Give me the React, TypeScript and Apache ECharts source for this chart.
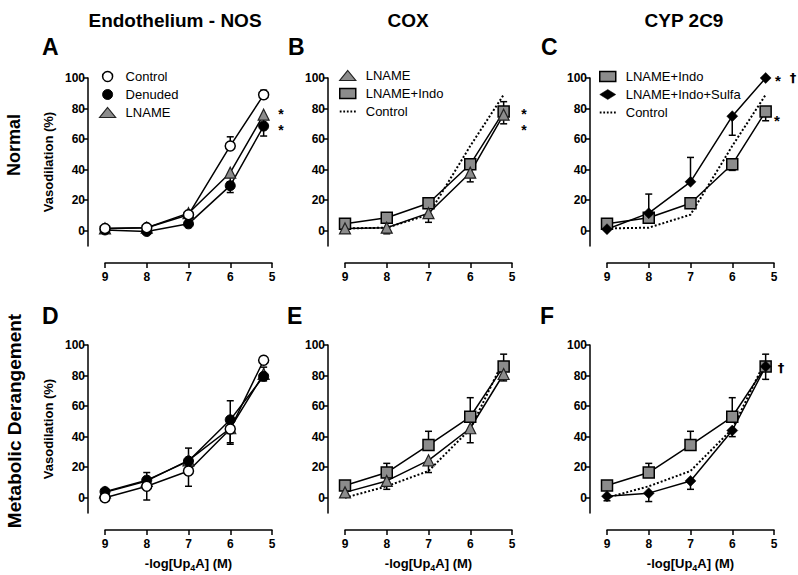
import React, { useEffect, useRef } from 'react';
import * as echarts from 'echarts';

const FONT = '"Liberation Sans", Arial, Helvetica, sans-serif';

// x: -log[Up4A] (M)
const doses = [9, 8, 7, 6, 5.2];
const xTicks = [9, 8, 7, 6, 5];
const yTicks = [0, 20, 40, 60, 80, 100];

// Normal (top row) – mean vasodilation (%) and signed SEM (+ up / - down)
const controlN = [1.5, 2, 10.5, 55.5, 89];
const controlNErr = [0, 0, 0, 6, 3];
const denudedN = [0.5, -0.5, 4.5, 29.5, 68.5];
const denudedNErr = [0, 0, -2, -4.5, -6.5];
const lnameN = [1.5, 2, 11.5, 38, 76];
const lnameNErr = [0, -4, -6, -6, -6];
const indoN = [4.5, 8.5, 18, 43.5, 78];
const indoNErrB = [0, 0, 0, 3.5, 6.5];
const indoNErrC = [0, 0, 0, -4, -6];
const sulfaN = [1, 11.5, 32, 75, 100];
const sulfaNErr = [0, 12.5, 16, -12.5, 0];

// Metabolic derangement (bottom row)
const controlM = [0, 7.5, 17.5, 45, 90];
const controlMErr = [0, -9, -10, -10, 0];
const denudedM = [4, 11.5, 24, 51, 79.5];
const denudedMErr = [0, 5, 8.5, 12.5, 6];
const lnameM = [3.5, 11, 24.5, 45.5, 81];
const lnameMErr = [0, -5.5, -8, -9.5, -4.5];
const indoM = [8, 16.5, 34.5, 53, 86];
const indoMErr = [0, 6, 9, 12.5, 8];
const sulfaM = [1, 3, 11, 44, 86];
const sulfaMErr = [-3, -5.5, -5.5, -4, -8.5];

const colHeaders = ['Endothelium - NOS', 'COX', 'CYP 2C9'];
const rowLabels = ['Normal', 'Metabolic Derangement'];
const panelLetters = ['A', 'B', 'C', 'D', 'E', 'F'];
const xTitle = '-log[Up{s|4}A] (M)';

const GREY = '#8c8c8c';
const symControl = { symbol: 'circle', symbolSize: 10, itemStyle: { color: '#fff', borderColor: '#000', borderWidth: 1.5 } };
const symDenuded = { symbol: 'circle', symbolSize: 10, itemStyle: { color: '#000', borderColor: '#000', borderWidth: 1 } };
const symLname = { symbol: 'triangle', symbolSize: 11, itemStyle: { color: GREY, borderColor: '#222', borderWidth: 1.2 } };
const symIndo = { symbol: 'rect', symbolSize: 11, itemStyle: { color: GREY, borderColor: '#000', borderWidth: 1.5 } };
const symSulfa = { symbol: 'diamond', symbolSize: 11, itemStyle: { color: '#000', borderColor: '#000', borderWidth: 0.5 } };
const DOTTED_ICON = 'path://M0,0h2v2h-2zM4,0h2v2h-2zM8,0h2v2h-2zM12,0h2v2h-2zM16,0h2v2h-2z';

const panelLeft = [105, 345, 607];
const rowTop = [78, 345];
const GW = 167;
const GH = 168;
const X_OFFSET = 17;
const Y_MIN = -10;

function lineSeries(name: string, values: number[], idx: number, sym: any) {
  return {
    type: 'line', name, xAxisIndex: idx, yAxisIndex: idx,
    data: doses.map((x, i) => [x, values[i]]),
    symbol: sym.symbol, symbolSize: sym.symbolSize, itemStyle: sym.itemStyle,
    lineStyle: { color: '#000', width: 1.5 },
    z: 3, clip: false,
  };
}

function dottedSeries(name: string, values: number[], idx: number) {
  return {
    type: 'line', name, xAxisIndex: idx, yAxisIndex: idx,
    data: doses.map((x, i) => [x, values[i]]),
    symbol: 'none', itemStyle: { color: '#000' },
    lineStyle: { color: '#000', width: 2, type: 'dotted' },
    z: 2, clip: false,
  };
}

function errSeries(values: number[], errs: number[], idx: number) {
  const data: number[][] = [];
  doses.forEach((x, i) => { if (errs[i] !== 0) data.push([x, values[i], values[i] + errs[i]]); });
  return {
    type: 'custom', xAxisIndex: idx, yAxisIndex: idx, z: 1,
    data,
    encode: { x: 0, y: [1, 2] },
    renderItem: (params: any, api: any) => {
      const p0 = api.coord([api.value(0), api.value(1)]);
      const p1 = api.coord([api.value(0), api.value(2)]);
      const cap = 3.5;
      return {
        type: 'group',
        children: [
          { type: 'line', shape: { x1: p0[0], y1: p0[1], x2: p1[0], y2: p1[1] }, style: { stroke: '#000', lineWidth: 1.5 } },
          { type: 'line', shape: { x1: p1[0] - cap, y1: p1[1], x2: p1[0] + cap, y2: p1[1] }, style: { stroke: '#000', lineWidth: 1.5 } },
        ],
      };
    },
  };
}

const tickLabel = () => ({ fontSize: 12, fontWeight: 'bold', color: '#000', fontFamily: FONT });
const axLine = () => ({ color: '#000', width: 1.5 });

function buildOption() {
  const grids: any[] = [];
  const xAxes: any[] = [];
  const yAxes: any[] = [];
  // plot grids (0..5)
  for (let r = 0; r < 2; r++) {
    for (let c = 0; c < 3; c++) {
      const idx = r * 3 + c;
      grids.push({ left: panelLeft[c], top: rowTop[r], width: GW, height: GH });
      xAxes.push({
        type: 'value', gridIndex: idx, min: 5, max: 9, interval: 1, inverse: true, show: false,
        splitLine: { show: false },
      });
      const ya: any = {
        type: 'value', gridIndex: idx, min: Y_MIN, max: 100, offset: 17,
        axisLine: { show: true, onZero: false, lineStyle: axLine() },
        axisTick: { show: true, length: 5, lineStyle: axLine(), customValues: yTicks },
        axisLabel: { ...tickLabel(), margin: 3, customValues: yTicks },
        splitLine: { show: false },
      };
      if (c === 0) {
        ya.name = 'Vasodilation (%)';
        ya.nameLocation = 'middle';
        ya.nameGap = 33;
        ya.nameTextStyle = { fontSize: 13, fontWeight: 'bold', color: '#000', fontFamily: FONT };
      }
      yAxes.push(ya);
    }
  }
  // detached x-axis strips (6..11): a thin grid just below each plot, holding the visible x axis
  for (let r = 0; r < 2; r++) {
    for (let c = 0; c < 3; c++) {
      const idx = 6 + r * 3 + c;
      grids.push({ left: panelLeft[c], top: rowTop[r] + GH + X_OFFSET, width: GW, height: 8 });
      xAxes.push({
        type: 'value', gridIndex: idx, min: 5, max: 9, interval: 1, inverse: true, position: 'top',
        axisLine: { show: true, onZero: false, lineStyle: axLine() },
        axisTick: { show: true, inside: true, length: 5, lineStyle: axLine() },
        axisLabel: { ...tickLabel(), inside: true, margin: 8 },
        splitLine: { show: false },
      });
      yAxes.push({ type: 'value', gridIndex: idx, min: 0, max: 1, show: false, splitLine: { show: false } });
    }
  }

  const series: any[] = [
    // A
    errSeries(lnameN, lnameNErr, 0), errSeries(denudedN, denudedNErr, 0), errSeries(controlN, controlNErr, 0),
    lineSeries('LNAME', lnameN, 0, symLname), lineSeries('Denuded', denudedN, 0, symDenuded), lineSeries('Control', controlN, 0, symControl),
    // B
    dottedSeries('Control (dotted)', controlN, 1),
    errSeries(indoN, indoNErrB, 1), errSeries(lnameN, lnameNErr, 1),
    lineSeries('LNAME+Indo', indoN, 1, symIndo), lineSeries('LNAME', lnameN, 1, symLname),
    // C
    dottedSeries('Control (dotted)', controlN, 2),
    errSeries(indoN, indoNErrC, 2), errSeries(sulfaN, sulfaNErr, 2),
    lineSeries('LNAME+Indo', indoN, 2, symIndo), lineSeries('LNAME+Indo+Sulfa', sulfaN, 2, symSulfa),
    // D
    errSeries(lnameM, lnameMErr, 3), errSeries(denudedM, denudedMErr, 3), errSeries(controlM, controlMErr, 3),
    lineSeries('LNAME', lnameM, 3, symLname), lineSeries('Denuded', denudedM, 3, symDenuded), lineSeries('Control', controlM, 3, symControl),
    // E
    dottedSeries('Control (dotted)', controlM, 4),
    errSeries(indoM, indoMErr, 4), errSeries(lnameM, lnameMErr, 4),
    lineSeries('LNAME+Indo', indoM, 4, symIndo), lineSeries('LNAME', lnameM, 4, symLname),
    // F
    dottedSeries('Control (dotted)', controlM, 5),
    errSeries(indoM, indoMErr, 5), errSeries(sulfaM, sulfaMErr, 5),
    lineSeries('LNAME+Indo', indoM, 5, symIndo), lineSeries('LNAME+Indo+Sulfa', sulfaM, 5, symSulfa),
  ];

  const legendBase = () => ({
    orient: 'vertical', itemWidth: 16, itemHeight: 10, itemGap: 5, padding: 0, selectedMode: false,
    textStyle: { fontSize: 13, color: '#000', fontFamily: FONT, padding: [0, 0, 0, 5] },
    formatter: (n: string) => n.replace(' (dotted)', ''),
  });
  const li = (name: string, sym: any) => ({ name, icon: sym.symbol, itemStyle: { ...sym.itemStyle } });
  const dottedItem = () => ({ name: 'Control (dotted)', icon: DOTTED_ICON, itemStyle: { color: '#000', borderWidth: 0 } });
  const legends = [
    { ...legendBase(), left: 99, top: 70, data: [li('Control', symControl), li('Denuded', symDenuded), li('LNAME', symLname)] },
    { ...legendBase(), left: 339, top: 69, data: [li('LNAME', symLname), li('LNAME+Indo', symIndo), dottedItem()] },
    { ...legendBase(), left: 599, top: 70, data: [li('LNAME+Indo', symIndo), li('LNAME+Indo+Sulfa', symSulfa), dottedItem()] },
  ];

  const txt = (text: string, x: number, y: number, size: number, extra: any = {}) => ({
    type: 'text', x, y, silent: true,
    style: { text, fontSize: size, fontWeight: 'bold', fill: '#000', fontFamily: FONT, align: 'center', verticalAlign: 'middle', ...extra },
  });
  const dag = { fontFamily: '"DejaVu Sans", sans-serif', fontWeight: 'bold' };
  const headerX = [175, 408, 684];
  const letterPos = [[42, 47], [288, 47], [541, 47], [42, 316], [287, 316], [540, 316]];
  const graphic: any[] = [
    ...colHeaders.map((h, i) => txt(h, headerX[i], 20, 19)),
    ...panelLetters.map((l, i) => txt(l, letterPos[i][0], letterPos[i][1], 23, { align: 'left' })),
    { ...txt(rowLabels[0], 14, 145, 18), rotation: Math.PI / 2 },
    { ...txt(rowLabels[1], 14, 421, 19), rotation: Math.PI / 2 },
    ...panelLeft.map((l) => txt(xTitle, l + GW / 2, 563, 13, {
      lineHeight: 18,
      rich: { s: { fontSize: 9, fontWeight: 'bold', fill: '#000', fontFamily: FONT, verticalAlign: 'bottom', lineHeight: 18 } },
    })),
    // significance marks
    txt('*', 281, 114, 14), txt('*', 281, 130, 14),
    txt('*', 524, 114, 14), txt('*', 524, 130, 14),
    txt('*', 778, 80, 15), txt('\u2020', 793, 77, 13, dag),
    txt('*', 777, 120, 15),
    txt('\u2020', 781, 367, 13, dag),
  ];

  return {
    animation: false,
    grid: grids, xAxis: xAxes, yAxis: yAxes, series, legend: legends, graphic,
  };
}

export default function App() {
  const ref = useRef<HTMLDivElement>(null);
  useEffect(() => {
    if (!ref.current) return;
    const chart = echarts.init(ref.current, undefined, { renderer: 'svg' });
    const opt: any = buildOption();
    chart.setOption(opt);
    return () => chart.dispose();
  }, []);
  return <div ref={ref} style={{ position: 'absolute', left: 0, top: 0, width: 798, height: 575, background: '#fff' }} />;
}
